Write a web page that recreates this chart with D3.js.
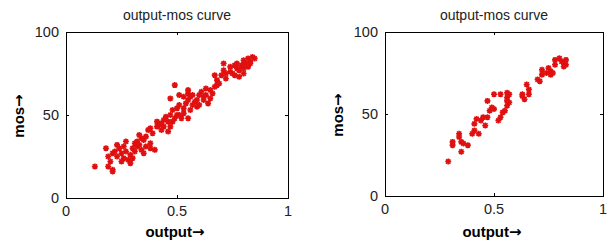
<!DOCTYPE html>
<html><head><meta charset="utf-8">
<script src="https://cdn.jsdelivr.net/npm/d3@7/dist/d3.min.js"></script>
<style>body{margin:0;background:#fff}svg{display:block}</style>
</head><body>
<svg id="c" width="612" height="243"></svg>
<script>
const titleText = "output-mos curve";
const xLabelWord = "output";
const yLabelWord = "mos";
const arrow = "\u2192";
const xTicks = [0, 0.5, 1];
const yTicks = [0, 50, 100];
const xTickLabels = ["0", "0.5", "1"];
const yTickLabels = ["0", "50", "100"];

const leftOutput = [0.13,0.18,0.19,0.20,0.19,0.21,0.21,0.21,0.22,0.23,0.24,0.25,0.26,0.26,0.27,0.28,0.29,0.29,0.30,0.31,0.32,0.32,0.33,0.34,0.35,0.33,0.35,0.36,0.38,0.38,0.40,0.37,0.38,0.39,0.41,0.41,0.42,0.43,0.44,0.44,0.45,0.46,0.47,0.47,0.48,0.49,0.50,0.49,0.50,0.51,0.52,0.53,0.53,0.54,0.55,0.53,0.55,0.56,0.56,0.57,0.58,0.59,0.59,0.60,0.61,0.62,0.62,0.63,0.64,0.65,0.65,0.66,0.67,0.68,0.68,0.67,0.69,0.70,0.71,0.71,0.72,0.74,0.74,0.75,0.76,0.77,0.77,0.78,0.79,0.80,0.80,0.81,0.82,0.83,0.84,0.83,0.80,0.78,0.23,0.25,0.27,0.30,0.31,0.34,0.36,0.43,0.46,0.48,0.51,0.55,0.57,0.60,0.63,0.72,0.76,0.82,0.80,0.85,0.47,0.55,0.51];
const leftMos = [19,30,25,22,19,17,16,27,28,25,30,27,24,31,28,23,21,26,30,33,31,34,32,29,27,38,35,31,33,30,29,41,42,39,43,46,44,41,47,43,49,46,50,43,53,48,50,68,54,56,48,51,54,57,59,61,63,61,53,56,58,59,55,56,64,61,59,62,57,65,60,63,67,68,71,74,69,74,81,77,72,76,79,75,74,78,81,77,80,83,78,81,84,81,85,82,75,73,32,22,34,24,28,36,37,45,40,46,50,48,62,62,66,75,80,79,80,84,60,65,62];

const rightOutput = [0.29,0.31,0.31,0.34,0.34,0.35,0.35,0.36,0.38,0.40,0.41,0.41,0.42,0.43,0.44,0.45,0.46,0.47,0.47,0.48,0.49,0.50,0.50,0.52,0.53,0.53,0.54,0.55,0.56,0.56,0.56,0.57,0.57,0.56,0.63,0.63,0.64,0.65,0.66,0.66,0.70,0.71,0.72,0.72,0.75,0.76,0.76,0.77,0.78,0.78,0.80,0.81,0.82,0.83,0.83,0.82,0.74];
const rightMos = [21,31,33,38,36,27,33,32,31,38,40,44,47,38,46,48,43,48,58,52,54,53,62,46,48,62,51,52,63,60,55,57,62,58,62,61,59,68,62,65,71,70,74,77,78,76,74,75,83,80,84,82,81,83,80,79,75];

const panels = [
  {x0: 66, x1: 288, y0: 32, y1: 198, xs: leftOutput, ys: leftMos},
  {x0: 385, x1: 603, y0: 32, y1: 196, xs: rightOutput, ys: rightMos}
];

const svg = d3.select("#c");
const font = "'Liberation Sans', Arial, sans-serif";
const arrowFont = "'DejaVu Sans', sans-serif";

function labelWithArrow(sel, word) {
  sel.append("tspan").text(word);
  sel.append("tspan").attr("font-family", arrowFont).attr("font-weight", "bold").text(arrow);
}

panels.forEach(p => {
  const x = d3.scaleLinear().domain([0, 1]).range([p.x0, p.x1]);
  const y = d3.scaleLinear().domain([0, 100]).range([p.y1, p.y0]);
  const g = svg.append("g");

  const star = "M-3,0H3M0,-3V3M-2.2,-2.2L2.2,2.2M-2.2,2.2L2.2,-2.2";
  g.append("g").selectAll("path").data(p.xs.map((v, i) => [v, p.ys[i]]))
    .join("path")
    .attr("transform", d => `translate(${x(d[0])},${y(d[1])})`)
    .attr("d", star)
    .attr("stroke", "#e01010").attr("stroke-width", 1.6).attr("fill", "none");

  g.append("rect").attr("x", p.x0 + 0.5).attr("y", p.y0 + 0.5)
    .attr("width", p.x1 - p.x0).attr("height", p.y1 - p.y0)
    .attr("fill", "none").attr("stroke", "#000").attr("stroke-width", 1);

  const tl = 3;
  xTicks.forEach(t => {
    const xx = Math.round(x(t)) + 0.5;
    g.append("line").attr("x1", xx).attr("x2", xx).attr("y1", p.y1).attr("y2", p.y1 - tl).attr("stroke", "#000");
    g.append("line").attr("x1", xx).attr("x2", xx).attr("y1", p.y0).attr("y2", p.y0 + tl).attr("stroke", "#000");
  });
  yTicks.forEach(t => {
    const yy = Math.round(y(t)) + 0.5;
    g.append("line").attr("y1", yy).attr("y2", yy).attr("x1", p.x0).attr("x2", p.x0 + tl).attr("stroke", "#000");
    g.append("line").attr("y1", yy).attr("y2", yy).attr("x1", p.x1).attr("x2", p.x1 - tl).attr("stroke", "#000");
  });

  g.append("g").selectAll("text").data(xTicks).join("text")
    .attr("x", d => x(d)).attr("y", p.y1 + 18)
    .attr("text-anchor", "middle").attr("font-family", font).attr("font-size", 14.5)
    .attr("fill", "#222").text((d, i) => xTickLabels[i]);
  g.append("g").selectAll("text").data(yTicks).join("text")
    .attr("x", p.x0 - 7).attr("y", d => y(d) + 5)
    .attr("text-anchor", "end").attr("font-family", font).attr("font-size", 14.5)
    .attr("fill", "#222").text((d, i) => yTickLabels[i]);

  g.append("text").attr("x", (p.x0 + p.x1) / 2).attr("y", p.y0 - 12)
    .attr("text-anchor", "middle").attr("font-family", font).attr("font-size", 14)
    .attr("fill", "#222").text(titleText);

  const xl = g.append("text").attr("x", (p.x0 + p.x1) / 2 - 2).attr("y", 237)
    .attr("text-anchor", "middle").attr("font-family", font).attr("font-size", 15)
    .attr("font-weight", "bold").attr("fill", "#000");
  labelWithArrow(xl, xLabelWord);
  const yl = g.append("text")
    .attr("transform", `translate(${p.x0 - 42},${(p.y0 + p.y1) / 2 + 1}) rotate(-90)`)
    .attr("text-anchor", "middle").attr("font-family", font).attr("font-size", 15)
    .attr("font-weight", "bold").attr("fill", "#000");
  labelWithArrow(yl, yLabelWord);
});
</script>
</body></html>
